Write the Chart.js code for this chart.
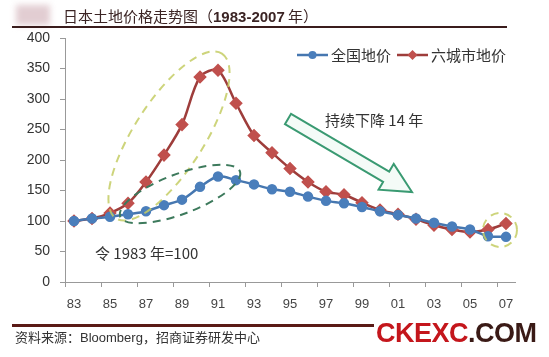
<!DOCTYPE html>
<html><head><meta charset="utf-8">
<script src="https://cdn.jsdelivr.net/npm/chart.js@4.4.1/dist/chart.umd.min.js"></script>
<style>
html,body{margin:0;padding:0;background:#fff;width:549px;height:357px;overflow:hidden;}
#wrap{position:absolute;left:0;top:0;width:549px;height:357px;}
.t{position:absolute;white-space:nowrap;}
#title{left:63px;top:5px;font:15px "Noto Sans CJK SC";color:#3b2424;letter-spacing:0px;}
#title b{font-family:"Liberation Sans";font-weight:bold;font-size:15px;}
#topline{position:absolute;left:12px;top:26px;width:495px;height:2px;background:#3a1c1c;}
#blob{position:absolute;left:16px;top:5px;width:34px;height:20px;background:#e2cdd2;filter:blur(3px);}
#botline{position:absolute;left:12px;top:324px;width:520px;height:3px;background:#5a1a16;}
#src{left:15px;top:327px;font:13px "Noto Sans CJK SC";color:#333;}
#src span{font-family:"Liberation Sans";}
#wm{left:374px;top:318px;font:bold 27px "Liberation Sans";letter-spacing:-0.5px;background:#fff;padding:0 2px;line-height:30px;}
#wm .a{color:#c4161c;} #wm .b{color:#3a1a16;}
</style></head>
<body>
<div id="wrap"><canvas id="c" width="549" height="357"></canvas></div>
<div id="blob"></div>
<div class="t" id="title">日本土地价格走势图（<b>1983-2007</b> 年）</div>
<div id="topline"></div>
<div id="botline"></div>
<div class="t" id="src">资料来源：<span>Bloomberg</span>，招商证券研发中心</div>
<div class="t" id="wm"><span class="a">CKEXC</span><span class="b">.COM</span></div>
<script>
const years = ['83','84','85','86','87','88','89','90','91','92','93','94','95','96','97','98','99','00','01','02','03','04','05','06','07'];
const nationalPrice = [100,104,107,111,116,126,135,156,173,167,160,152,148,140,133,129,123,116,110,104,97,91,86,75,74];
const sixCityPrice  = [100,104,113,129,164,208,258,336,347,293,240,212,186,164,148,143,130,118,111,103,93,86,82,86,96];
const yTicks = [0,50,100,150,200,250,300,350,400];
const seriesNames = ['全国地价','六城市地价'];
const noteDecline = '持续下降 14 年';
const noteBase = '令 1983 年=100';

const blue='#4a7ebb', blueLine='#4677b0', red='#c0504d', redLine='#9e3d3b';

const annot = {
  id:'annot',
  afterDatasetsDraw(chart){
    const ctx=chart.ctx;
    ctx.save();
    function ell(cx,cy,rx,ry,rot,color){
      ctx.beginPath();ctx.setLineDash([8,6]);ctx.lineWidth=2;ctx.strokeStyle=color;
      ctx.ellipse(cx,cy,rx,ry,rot,0,Math.PI*2);ctx.stroke();
    }
    ell(169,136,98,35,-1.0,'rgba(196,204,100,0.85)');
    ell(180,194,64,20,-0.36,'#3d7a5c');
    ell(500,230,17,17,0,'rgba(196,204,100,0.85)');
    ctx.setLineDash([]);
    const x0=288,y0=119,x1=412,y1=192;
    const ang=Math.atan2(y1-y0,x1-x0), L=Math.hypot(x1-x0,y1-y0);
    ctx.translate(x0,y0);ctx.rotate(ang);
    const sw=6, hw=15, hl=30;
    ctx.beginPath();
    ctx.moveTo(0,-sw);ctx.lineTo(L-hl,-sw);ctx.lineTo(L-hl,-hw);ctx.lineTo(L,0);
    ctx.lineTo(L-hl,hw);ctx.lineTo(L-hl,sw);ctx.lineTo(0,sw);ctx.closePath();
    ctx.fillStyle='#f4fbf7';ctx.fill();
    ctx.lineWidth=2;ctx.strokeStyle='#3a9a72';ctx.stroke();
    ctx.setTransform(1,0,0,1,0,0);
    ctx.fillStyle='#333';ctx.textBaseline='middle';
    ctx.font='15px "Noto Sans CJK SC"';
    ctx.fillText(noteDecline,325,120);
    ctx.fillText(noteBase,95,253);
    const items=[{x:297,c:blue,lc:blueLine,s:'circle',t:seriesNames[0]},{x:397,c:red,lc:redLine,s:'diamond',t:seriesNames[1]}];
    items.forEach(it=>{
      const y=55;
      ctx.beginPath();ctx.strokeStyle=it.lc;ctx.lineWidth=2.5;ctx.moveTo(it.x,y);ctx.lineTo(it.x+31,y);ctx.stroke();
      ctx.fillStyle=it.c;ctx.beginPath();
      const mx=it.x+15.5;
      if(it.s==='circle'){ctx.arc(mx,y,4,0,Math.PI*2);}
      else{ctx.moveTo(mx,y-5);ctx.lineTo(mx+5,y);ctx.lineTo(mx,y+5);ctx.lineTo(mx-5,y);ctx.closePath();}
      ctx.fill();
      ctx.fillStyle='#333';ctx.font='15px "Noto Sans CJK SC"';ctx.fillText(it.t,it.x+34,y);
    });
    ctx.restore();
  }
};

new Chart(document.getElementById('c'),{
  type:'line',
  data:{labels:years,datasets:[
    {label:seriesNames[0],data:nationalPrice,borderColor:blueLine,backgroundColor:blue,pointBackgroundColor:blue,pointBorderColor:blue,pointStyle:'circle',pointRadius:4,borderWidth:2.5,tension:0.3},
    {label:seriesNames[1],data:sixCityPrice,borderColor:redLine,backgroundColor:red,pointBackgroundColor:red,pointBorderColor:red,pointStyle:'rectRot',pointRadius:5,borderWidth:2.5,tension:0.3}
  ]},
  options:{
    responsive:false,animation:false,devicePixelRatio:1,
    layout:{padding:{left:0,right:34,top:38,bottom:35}},
    plugins:{legend:{display:false},tooltip:{enabled:false}},
    scales:{
      x:{offset:true,
        afterFit(s){s.height=40;},
        grid:{offset:true,drawOnChartArea:false,tickLength:5,color:(c)=>(c.index%2===0?'#999':'rgba(0,0,0,0)'),lineWidth:1},
        border:{color:'#999',width:1},
        ticks:{autoSkip:false,maxRotation:0,padding:10,color:'#444',font:{family:'Liberation Sans',size:13},
          callback(v,i){return i%2===0?years[i]:'';}}
      },
      y:{min:0,max:400,
        afterFit(s){s.width=65;},
        afterBuildTicks(s){s.ticks=yTicks.map(v=>({value:v}));},
        grid:{drawOnChartArea:false,tickLength:5,color:'#999'},
        border:{color:'#999',width:1},
        ticks:{padding:10,color:'#333',font:{family:'Liberation Sans',size:14}}
      }
    }
  },
  plugins:[annot]
});
</script>
</body></html>
